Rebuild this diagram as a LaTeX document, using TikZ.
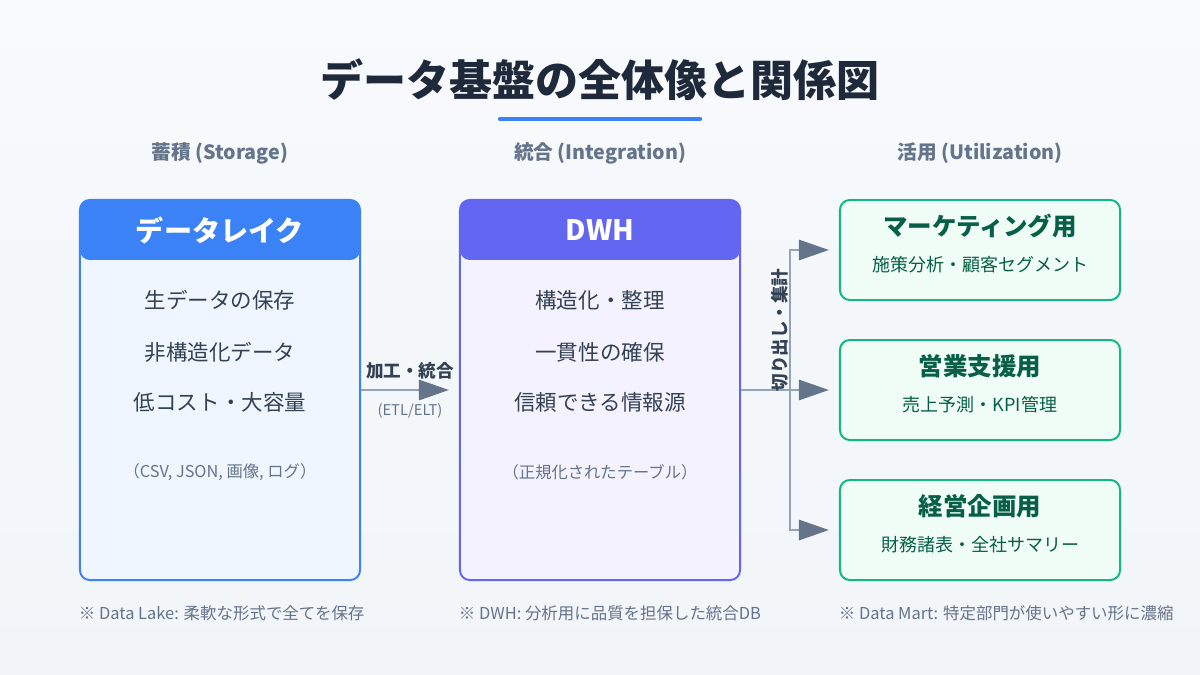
\documentclass[tikz,border=0pt]{standalone}
\usepackage{fontspec}
\setmainfont{Noto Sans CJK JP}
\usetikzlibrary{arrows.meta, positioning, calc}
\definecolor{inkdark}{HTML}{1E293B}
\definecolor{inkbody}{HTML}{334155}
\definecolor{inkgray}{HTML}{64748B}
\definecolor{lakeblue}{HTML}{3B82F6}
\definecolor{lakefill}{HTML}{EFF6FF}
\definecolor{dwhindigo}{HTML}{6366F1}
\definecolor{dwhfill}{HTML}{F3F2FE}
\definecolor{martgreen}{HTML}{10B981}
\definecolor{martfill}{HTML}{F0FDF6}
\definecolor{martink}{HTML}{065F46}
\definecolor{lineslate}{HTML}{94A3B8}
\definecolor{tipslate}{HTML}{64748B}
\definecolor{bgtop}{HTML}{F8FAFC}
\definecolor{bgbot}{HTML}{F1F5F9}

\begin{document}
\begin{tikzpicture}[
    x=0.025cm, y=-0.025cm,
    panel/.style={rectangle, rounded corners=7pt, line width=1.4pt,
        minimum width=7cm, minimum height=9.5cm, inner sep=0pt},
    lake/.style={panel, draw=lakeblue, fill=lakefill,
        path picture={\fill[lakeblue] (path picture bounding box.north west)
            rectangle ([yshift=-1.5cm]path picture bounding box.north east);}},
    dwh/.style={panel, draw=dwhindigo, fill=dwhfill,
        path picture={\fill[dwhindigo] (path picture bounding box.north west)
            rectangle ([yshift=-1.5cm]path picture bounding box.north east);}},
    mart/.style={rectangle, rounded corners=7pt, line width=1.4pt,
        draw=martgreen, fill=martfill, minimum width=7cm, minimum height=2.5cm},
    hdr/.style={font=\fontsize{20}{24}\selectfont\bfseries, text=white},
    item/.style={font=\fontsize{15.3}{18}\selectfont, text=inkbody},
    note/.style={font=\fontsize{11.6}{14}\selectfont, text=inkgray},
    col/.style={font=\fontsize{14}{17}\selectfont\bfseries, text=inkgray},
    mtitle/.style={font=\fontsize{17.4}{21}\selectfont\bfseries, text=martink},
    msub/.style={font=\fontsize{12.8}{15}\selectfont, text=martink},
    foot/.style={font=\fontsize{11.7}{14}\selectfont, text=inkgray, anchor=west},
    lbl/.style={font=\fontsize{12.5}{15}\selectfont\bfseries, text=inkbody},
    pipe/.style={line width=2.1pt, lineslate},
    flow/.style={pipe, -{Triangle[length=0.75cm, width=0.5cm, color=tipslate]}}
]
% background
\fill[top color=bgtop, bottom color=bgbot] (0,0) rectangle (1200,675);

% title
\node[font=\fontsize{30.6}{36}\selectfont\bfseries, text=inkdark] (title) at (600,80) {データ基盤の全体像と関係図};
\draw[line width=3pt, lakeblue, line cap=round] (500,119) -- (700,119);

% column labels
\node[col] (colA) at (220,153) {蓄積 (Storage)};
\node[col] (colB) at (600,153) {統合 (Integration)};
\node[col] (colC) at (980,153) {活用 (Utilization)};

% data lake
\node[lake] (lk) at (220,390) {};
\node[hdr] (lkhdr) at (220,230) {データレイク};
\node[item] (lk1) at (220,300) {生データの保存};
\node[item] (lk2) at (220,352) {非構造化データ};
\node[item] (lk3) at (220,402) {低コスト・大容量};
\node[note] (lk4) at (220,472) {（CSV, JSON, 画像, ログ）};

% dwh
\node[dwh] (wh) at (600,390) {};
\node[hdr] (whhdr) at (600,230) {DWH};
\node[item] (wh1) at (600,300) {構造化・整理};
\node[item] (wh2) at (600,352) {一貫性の確保};
\node[item] (wh3) at (600,402) {信頼できる情報源};
\node[note] (wh4) at (600,472) {（正規化されたテーブル）};

% data marts
\node[mart] (mk) at (980,250) {};
\node[mtitle] at ($(mk.center)+(0,-24)$) {マーケティング用};
\node[msub] at ($(mk.center)+(0,15)$) {施策分析・顧客セグメント};
\node[mart] (sl) at (980,390) {};
\node[mtitle] at ($(sl.center)+(0,-24)$) {営業支援用};
\node[msub] at ($(sl.center)+(0,15)$) {売上予測・KPI管理};
\node[mart] (mg) at (980,530) {};
\node[mtitle] at ($(mg.center)+(0,-24)$) {経営企画用};
\node[msub] at ($(mg.center)+(0,15)$) {財務諸表・全社サマリー};

% connectors
\draw[flow, shorten >=0.25cm] (lk) -- node[lbl, above=3pt] {加工・統合}
    node[note, below=5pt, font=\fontsize{10.5}{12}\selectfont] {(ETL/ELT)} (wh);
\coordinate (split) at (790,390);
\draw[pipe] (wh.east) -- (split);
\draw[flow, shorten >=0.25cm] (split) |- (mk.west);
\draw[flow, shorten >=0.25cm] (split) -- (sl.west);
\draw[flow, shorten >=0.25cm] (split) |- (mg.west);
\node[lbl, rotate=90] at (780,330) {切り出し・集計};

% footnotes
\node[foot] at (74,613) {※ Data Lake: 柔軟な形式で全てを保存};
\node[foot] at (454,613) {※ DWH: 分析用に品質を担保した統合DB};
\node[foot] at (834,613) {※ Data Mart: 特定部門が使いやすい形に濃縮};
\end{tikzpicture}
\end{document}
